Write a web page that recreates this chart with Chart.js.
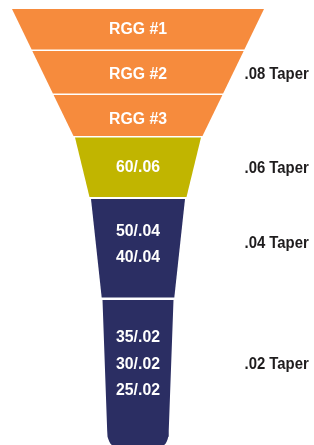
<!DOCTYPE html>
<html><head><meta charset="utf-8">
<script src="https://cdn.jsdelivr.net/npm/chart.js@4.4.0/dist/chart.umd.min.js"></script>
<style>html,body{margin:0;padding:0;background:#fff;overflow:hidden}#wrap{width:314px;height:445px;position:relative}</style>
</head><body><div id="wrap"><canvas id="c"></canvas></div>
<script>
// Funnel geometry (data units: horizontal position / vertical depth)
const funnelCenter = 138;
const bandTop    = [9, 51, 95, 137.5, 199, 300];
const bandBottom = [49.5, 93.5, 136, 197, 297.5, 446];
const halfTop    = [126, 105.7, 84.4, 63, 47, 35.5];
const halfBottom = [106.4, 85.1, 64.5, 48.5, 36.3, 30.8];
const bandColors = ['#F68B3D', '#F68B3D', '#F68B3D', '#C1B500', '#2B2E63', '#2B2E63'];
const bandRounded = [false, false, false, false, false, true];

// Labels inside the funnel
const innerLabels = ['RGG #1', 'RGG #2', 'RGG #3', '60/.06', '50/.04', '40/.04', '35/.02', '30/.02', '25/.02'];
const innerLabelY = [28, 73, 118.8, 166.3, 230.8, 256.3, 336.8, 363.3, 389.8];

// Taper labels on the right
const taperLabels = ['.08 Taper', '.06 Taper', '.04 Taper', '.02 Taper'];
const taperLabelY = [73.2, 167, 242, 363.5];
const taperLabelX = 244.5;

const cornerRX = 7, cornerRY = 15, cornerSteps = 8;

function bandPolygon(i) {
  const c = funnelCenter, t = bandTop[i], b = bandBottom[i], ht = halfTop[i], hb = halfBottom[i];
  const pts = [{x: c - ht, y: t}];
  if (bandRounded[i]) {
    pts.push({x: c - hb, y: b - cornerRY});
    for (let k = 1; k <= cornerSteps; k++) {
      const a = Math.PI + (Math.PI / 2) * (k / cornerSteps);
      pts.push({x: c - hb + cornerRX + cornerRX * Math.cos(a), y: b - cornerRY - cornerRY * Math.sin(a)});
    }
    for (let k = 0; k <= cornerSteps; k++) {
      const a = Math.PI * 1.5 + (Math.PI / 2) * (k / cornerSteps);
      pts.push({x: c + hb - cornerRX + cornerRX * Math.cos(a), y: b - cornerRY - cornerRY * Math.sin(a)});
    }
  } else {
    pts.push({x: c - hb, y: b});
    pts.push({x: c + hb, y: b});
  }
  pts.push({x: c + ht, y: t});
  pts.push({x: c - ht, y: t});
  return pts;
}

const datasets = bandTop.map((_, i) => ({
  data: bandPolygon(i),
  showLine: true,
  fill: 'shape',
  backgroundColor: bandColors[i],
  borderColor: 'transparent',
  borderWidth: 0,
  pointRadius: 0,
  pointHoverRadius: 0,
  tension: 0
}));

const labelPlugin = {
  id: 'funnelLabels',
  afterDatasetsDraw(chart) {
    const {ctx, scales: {x, y}} = chart;
    ctx.save();
    ctx.textBaseline = 'alphabetic';
    ctx.fillStyle = '#ffffff';
    ctx.textAlign = 'center';
    const fs = 15.8;
    ctx.font = 'bold ' + fs + 'px "Liberation Sans", Arial, sans-serif';
    innerLabels.forEach((t, i) => {
      ctx.fillText(t, x.getPixelForValue(funnelCenter), y.getPixelForValue(innerLabelY[i]) + fs * 0.358);
    });
    const fs2 = 16.2;
    ctx.fillStyle = '#1e1c1d';
    ctx.textAlign = 'left';
    ctx.font = 'bold ' + fs2 + 'px "Liberation Sans", Arial, sans-serif';
    taperLabels.forEach((t, i) => {
      ctx.save();
      ctx.translate(x.getPixelForValue(taperLabelX), y.getPixelForValue(taperLabelY[i]) + fs2 * 0.358);
      ctx.scale(0.92, 1);
      ctx.fillText(t, 0, 0);
      ctx.restore();
    });
    ctx.restore();
  }
};

new Chart(document.getElementById('c'), {
  type: 'scatter',
  data: {datasets},
  options: {
    responsive: true,
    maintainAspectRatio: false,
    animation: false,
    layout: {padding: 0},
    plugins: {legend: {display: false}, tooltip: {enabled: false}},
    events: [],
    scales: {
      x: {type: 'linear', min: 0, max: 314, display: false},
      y: {type: 'linear', min: 0, max: 445, reverse: true, display: false}
    }
  },
  plugins: [labelPlugin]
});
</script>
</body></html>
